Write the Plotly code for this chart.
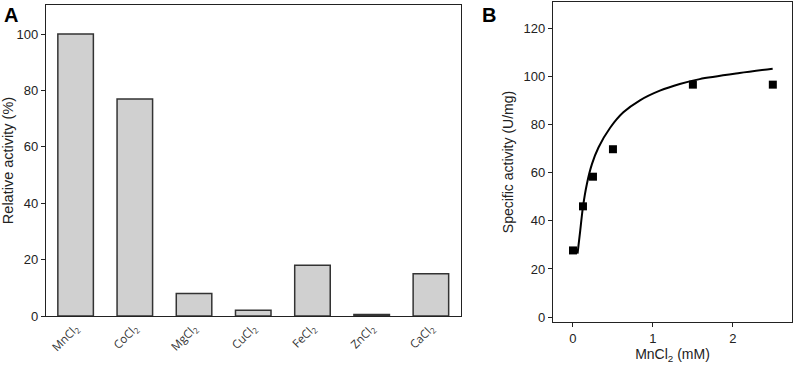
import plotly.graph_objects as go

# Panel A data
salts = ["MnCl<sub>2</sub>", "CoCl<sub>2</sub>", "MgCl<sub>2</sub>", "CuCl<sub>2</sub>",
         "FeCl<sub>2</sub>", "ZnCl<sub>2</sub>", "CaCl<sub>2</sub>"]
relative_activity = [100, 77, 8, 2, 18, 0.5, 15]

# Panel B data (measured points)
mn_conc = [0, 0.125, 0.25, 0.5, 1.5, 2.5]
specific_activity = [27.7, 46, 58.3, 69.7, 96.5, 96.5]

# Panel B fitted curve
fit_x = [0.057, 0.091, 0.124, 0.174, 0.237, 0.319, 0.465, 0.63, 0.838, 1.087, 1.336, 1.585, 2.084, 2.498]
fit_y = [26.4, 36.0, 45.6, 55.3, 63.5, 70.4, 78.6, 85.0, 90.0, 94.0, 96.8, 98.8, 101.3, 103.1]

FONT = "Liberation Sans, Arial, sans-serif"
W, H = 796, 366

fig = go.Figure()
fig.add_trace(go.Bar(x=salts, y=relative_activity, xaxis="x", yaxis="y",
                     marker=dict(color="#d0d0d0", line=dict(color="#333333", width=1.5)),
                     showlegend=False))
fig.add_trace(go.Scatter(x=fit_x, y=fit_y, xaxis="x2", yaxis="y2", mode="lines",
                         line=dict(color="black", width=2, shape="spline", smoothing=0.8),
                         showlegend=False))
fig.add_trace(go.Scatter(x=mn_conc, y=specific_activity, xaxis="x2", yaxis="y2", mode="markers",
                         marker=dict(symbol="square", size=8, color="black"),
                         showlegend=False))

axis_common = dict(showline=True, linecolor="#222222", linewidth=1.3, mirror=True,
                   showgrid=False, zeroline=False, automargin=False,
                   tickfont=dict(family=FONT, size=13, color="#222222"))

fig.update_layout(
    template="none",
    width=W, height=H,
    margin=dict(l=0, r=0, t=0, b=0),
    paper_bgcolor="white", plot_bgcolor="white",
    bargap=0.4,
    xaxis=dict(axis_common, domain=[46 / W, 460.5 / W], anchor="y", ticks="",
               tickangle=-45, range=[-0.5, 6.5],
               tickfont=dict(family="Open Sans, sans-serif", size=11.5, color="#333333")),
    yaxis=dict(axis_common, domain=[1 - 316 / H, 1 - 5 / H], anchor="x",
               range=[0, 110.3], tickvals=[0, 20, 40, 60, 80, 100],
               ticks="outside", ticklen=4, tickcolor="#222222",
               title=dict(text="Relative activity (%)", font=dict(family=FONT, size=14.5, color="#222222"),
                          standoff=8)),
    xaxis2=dict(axis_common, domain=[553 / W, 792 / W], anchor="y2",
                range=[-0.25, 2.74], tickvals=[0, 1, 2],
                ticks="outside", ticklen=4, tickcolor="#222222",
                title=dict(text="MnCl<sub>2</sub> (mM)", font=dict(family=FONT, size=14, color="#222222"),
                           standoff=2)),
    yaxis2=dict(axis_common, domain=[1 - 322 / H, 1 - 2 / H], anchor="x2",
                range=[-2, 130.8], tickvals=[0, 20, 40, 60, 80, 100, 120],
                ticks="outside", ticklen=4, tickcolor="#222222",
                title=dict(text="Specific activity (U/mg)", font=dict(family=FONT, size=14, color="#222222"),
                           standoff=6)),
    annotations=[
        dict(text="<b>A</b>", x=2 / W, y=1 - 2 / H, xref="paper", yref="paper",
             xanchor="left", yanchor="top", showarrow=False,
             font=dict(family=FONT, size=20, color="black")),
        dict(text="<b>B</b>", x=480 / W, y=1 - 2 / H, xref="paper", yref="paper",
             xanchor="left", yanchor="top", showarrow=False,
             font=dict(family=FONT, size=20, color="black")),
    ],
)

fig.write_html("out.html", config={"displayModeBar": False},
               post_script="document.body.style.margin='0';document.body.style.overflow='hidden';")
